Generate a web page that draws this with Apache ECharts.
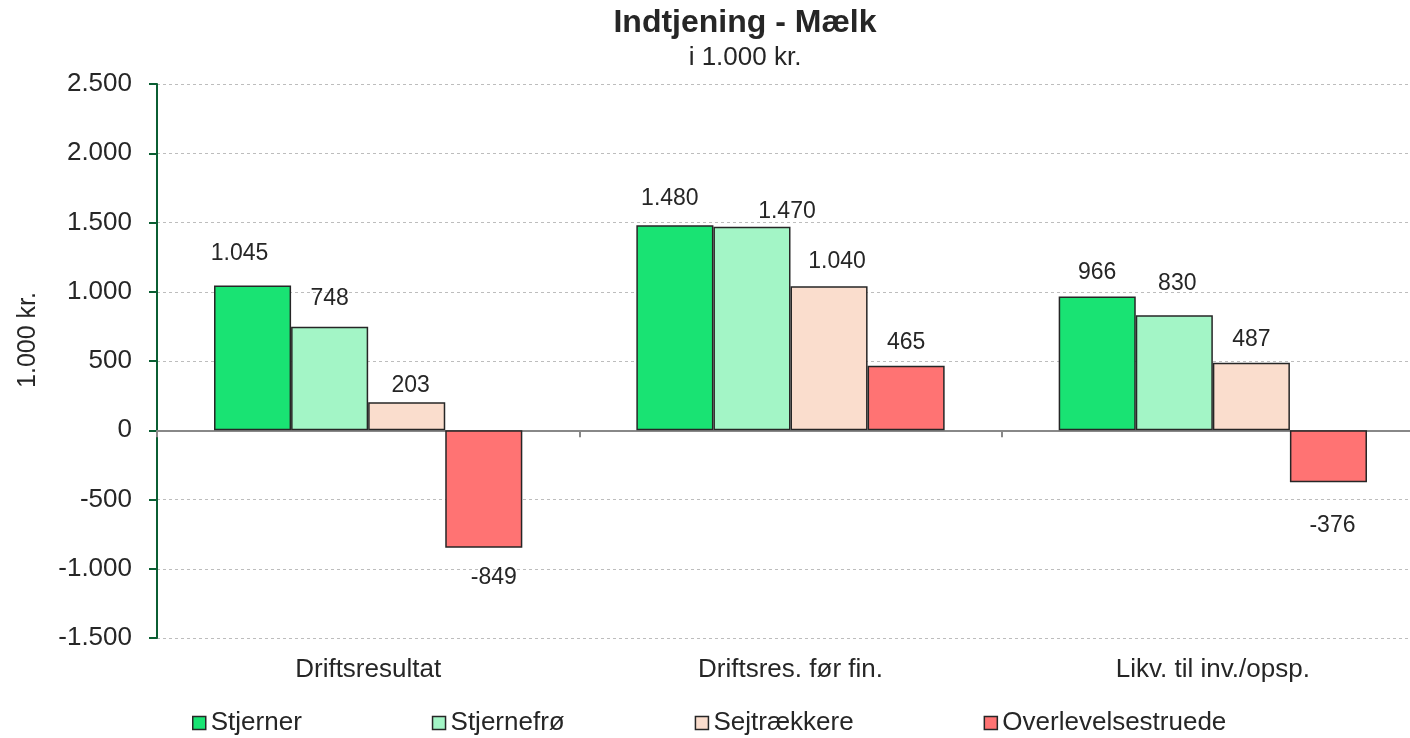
<!DOCTYPE html>
<html>
<head>
<meta charset="utf-8">
<script src="https://cdn.jsdelivr.net/npm/echarts@6/dist/echarts.min.js"></script>
<style>
  html, body { margin: 0; padding: 0; background: #fff; overflow: hidden; }
  #chart { width: 1410px; height: 738px; }
</style>
</head>
<body>
<div id="chart"></div>
<script>
// Kategorier og nøgletal (1.000 kr.)
const categories = ['Driftsresultat', 'Driftsres. før fin.', 'Likv. til inv./opsp.'];
const seriesNames = ['Stjerner', 'Stjernefrø', 'Sejtrækkere', 'Overlevelsestruede'];
const stjerner = [1045, 1480, 966];
const stjernefroe = [748, 1470, 830];
const sejtraekkere = [203, 1040, 487];
const overlevelsestruede = [-849, 465, -376];
const yTicks = { min: -1500, max: 2500, step: 500 };

// Farver og etiketjusteringer pr. serie
const colors = ['#19E373', '#A3F5C6', '#FADDCD', '#FF7373'];
const labelNudge = [
  [[-13, -8], [-5, -3], [0, 0]],
  [[0, -4], [35, 9], [3, -8]],
  [[4, 7], [8, -1], [0, 0]],
  [[10, 6], [0, 0], [4, 20]]
];

const textColor = '#262626';
const fontFamily = '"Liberation Sans", Arial, sans-serif';

function fmt(v) {
  const s = Math.abs(v).toString().replace(/\B(?=(\d{3})+(?!\d))/g, '.');
  return (v < 0 ? '-' : '') + s;
}

const allValues = [stjerner, stjernefroe, sejtraekkere, overlevelsestruede];

const series = allValues.map((vals, si) => ({
  name: seriesNames[si],
  type: 'bar',
  xAxisIndex: 0,
  barGap: '0%',
  barCategoryGap: '27%',
  itemStyle: { color: colors[si], borderColor: textColor, borderWidth: 1.5 },
  label: {
    show: true,
    distance: 12,
    fontSize: 23,
    lineHeight: 23,
    color: textColor,
    fontFamily: fontFamily,
    formatter: p => fmt(p.value)
  },
  data: vals.map((v, ci) => ({
    value: v,
    label: {
      position: v < 0 ? 'bottom' : 'top',
      offset: labelNudge[si][ci]
    }
  }))
}));

const chart = echarts.init(document.getElementById('chart'));
chart.setOption({
  animation: false,
  backgroundColor: '#fff',
  textStyle: { fontFamily: fontFamily },
  title: {
    text: 'Indtjening - Mælk',
    subtext: 'i 1.000 kr.',
    left: 745,
    textAlign: 'center',
    top: 6,
    padding: 0,
    itemGap: 4,
    textStyle: { fontSize: 32, fontWeight: 'bold', color: textColor, lineHeight: 34, fontFamily: fontFamily },
    subtextStyle: { fontSize: 26, color: textColor, lineHeight: 28, fontFamily: fontFamily }
  },
  legend: {
    data: seriesNames,
    left: 192,
    top: 710,
    padding: 0,
    icon: 'rect',
    itemWidth: 13,
    itemHeight: 13,
    itemGap: 130,
    itemStyle: { borderColor: textColor, borderWidth: 1.5 },
    textStyle: { fontSize: 26, color: textColor, fontFamily: fontFamily }
  },
  grid: { left: 157, width: 1267, top: 84, height: 554, containLabel: false, outerBoundsMode: 'none' },
  xAxis: [
    {
      type: 'category',
      data: categories,
      position: 'bottom',
      axisLine: { onZero: true, lineStyle: { color: '#888', width: 2 } },
      axisTick: { show: true, length: 7, lineStyle: { color: '#888', width: 2 } },
      axisLabel: { show: false },
      splitLine: { show: false }
    },
    {
      type: 'category',
      data: categories,
      position: 'bottom',
      axisLine: { show: false, onZero: false },
      axisTick: { show: false },
      axisLabel: { show: true, margin: 19, fontSize: 26, color: textColor, fontFamily: fontFamily },
      splitLine: { show: false }
    }
  ],
  yAxis: {
    type: 'value',
    min: yTicks.min,
    max: yTicks.max,
    interval: yTicks.step,
    name: '1.000 kr.',
    nameLocation: 'middle',
    nameGap: 116,
    nameTextStyle: { fontSize: 25, color: textColor, fontFamily: fontFamily, padding: [0, 0, 0, 42] },
    axisLine: { show: true, lineStyle: { color: '#0B5E33', width: 2 } },
    axisTick: { show: true, inside: false, length: 8, lineStyle: { color: '#0B5E33', width: 2 } },
    axisLabel: { margin: 25, fontSize: 26, color: textColor, fontFamily: fontFamily, formatter: v => fmt(v) },
    splitLine: { show: true, lineStyle: { color: '#BDBDBD', type: [3, 3], width: 1 } }
  },
  series: series
});
</script>
</body>
</html>
